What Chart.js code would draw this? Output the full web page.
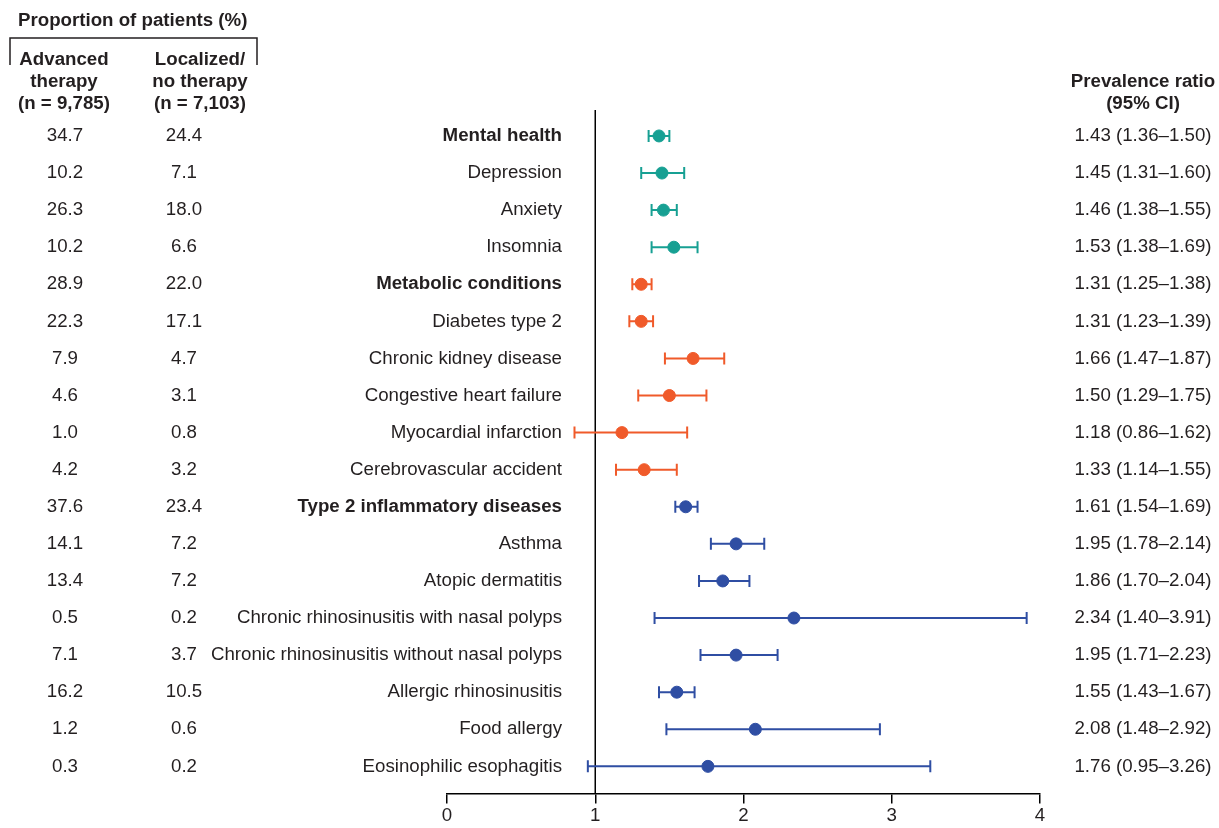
<!DOCTYPE html>
<html>
<head>
<meta charset="utf-8">
<script src="https://cdn.jsdelivr.net/npm/chart.js@4/dist/chart.umd.min.js"></script>
<style>
  body { margin: 0; background: #fff; }
  #wrap { width: 1219px; height: 828px; position: relative; }
</style>
</head>
<body>
<div id="wrap"><canvas id="forestChart"></canvas></div>
<script>
// rows, top to bottom
var conditions = ['Mental health', 'Depression', 'Anxiety', 'Insomnia',
  'Metabolic conditions', 'Diabetes type 2', 'Chronic kidney disease', 'Congestive heart failure',
  'Myocardial infarction', 'Cerebrovascular accident',
  'Type 2 inflammatory diseases', 'Asthma', 'Atopic dermatitis',
  'Chronic rhinosinusitis with nasal polyps', 'Chronic rhinosinusitis without nasal polyps',
  'Allergic rhinosinusitis', 'Food allergy', 'Eosinophilic esophagitis'];
var isGroup = [true, false, false, false, true, false, false, false, false, false,
  true, false, false, false, false, false, false, false];
var groupOf = [0, 0, 0, 0, 1, 1, 1, 1, 1, 1, 2, 2, 2, 2, 2, 2, 2, 2];

var advanced = ['34.7', '10.2', '26.3', '10.2', '28.9', '22.3', '7.9', '4.6', '1.0', '4.2',
  '37.6', '14.1', '13.4', '0.5', '7.1', '16.2', '1.2', '0.3'];
var localized = ['24.4', '7.1', '18.0', '6.6', '22.0', '17.1', '4.7', '3.1', '0.8', '3.2',
  '23.4', '7.2', '7.2', '0.2', '3.7', '10.5', '0.6', '0.2'];

var ratio = [1.43, 1.45, 1.46, 1.53, 1.31, 1.31, 1.66, 1.50, 1.18, 1.33,
  1.61, 1.95, 1.86, 2.34, 1.95, 1.55, 2.08, 1.76];
var ciLow = [1.36, 1.31, 1.38, 1.38, 1.25, 1.23, 1.47, 1.29, 0.86, 1.14,
  1.54, 1.78, 1.70, 1.40, 1.71, 1.43, 1.48, 0.95];
var ciHigh = [1.50, 1.60, 1.55, 1.69, 1.38, 1.39, 1.87, 1.75, 1.62, 1.55,
  1.69, 2.14, 2.04, 3.91, 2.23, 1.67, 2.92, 3.26];

var xTicks = [0, 1, 2, 3, 4];
var groupColors = ['#17a093', '#f05a2a', '#2f4ea3'];

var FONT = '"Liberation Sans", Arial, sans-serif';
var FS = 18.7;

function fmt(v) { return v.toFixed(2); }

// point data
var pts = [];
var ptColors = [];
for (var i = 0; i < conditions.length; i++) {
  pts.push({ x: ratio[i], y: i });
  ptColors.push(groupColors[groupOf[i]]);
}

// whiskers + text columns
var forestPlugin = {
  id: 'forest',
  beforeDatasetsDraw: function(chart) {
    var ctx = chart.ctx;
    var xs = chart.scales.x, ys = chart.scales.y;
    var area = chart.chartArea;
    ctx.save();
    // reference line at 1
    ctx.strokeStyle = '#000';
    ctx.lineWidth = 1.5;
    ctx.beginPath();
    ctx.moveTo(xs.getPixelForValue(1), area.top);
    ctx.lineTo(xs.getPixelForValue(1), area.bottom);
    ctx.stroke();
    // confidence intervals
    ctx.lineWidth = 2;
    for (var i = 0; i < conditions.length; i++) {
      var y = ys.getPixelForValue(i);
      var x1 = xs.getPixelForValue(ciLow[i]);
      var x2 = xs.getPixelForValue(ciHigh[i]);
      ctx.strokeStyle = groupColors[groupOf[i]];
      ctx.beginPath();
      ctx.moveTo(x1, y); ctx.lineTo(x2, y);
      ctx.moveTo(x1, y - 6); ctx.lineTo(x1, y + 6);
      ctx.moveTo(x2, y - 6); ctx.lineTo(x2, y + 6);
      ctx.stroke();
    }
    ctx.restore();
  },
  afterDraw: function(chart) {
    var ctx = chart.ctx;
    var ys = chart.scales.y;
    ctx.save();
    ctx.fillStyle = '#231f20';
    ctx.textBaseline = 'middle';

    // headers
    ctx.font = 'bold ' + FS + 'px ' + FONT;
    ctx.textAlign = 'left';
    ctx.fillText('Proportion of patients (%)', 18, 21);
    ctx.textAlign = 'center';
    var h1 = ['Advanced', 'therapy', '(n = 9,785)'];
    var h2 = ['Localized/', 'no therapy', '(n = 7,103)'];
    var hy = [60, 82, 104];
    for (var k = 0; k < 3; k++) {
      ctx.fillText(h1[k], 64, hy[k]);
      ctx.fillText(h2[k], 200, hy[k]);
    }
    ctx.fillText('Prevalence ratio', 1143, 82);
    ctx.fillText('(95% CI)', 1143, 104);

    // bracket
    ctx.strokeStyle = '#231f20';
    ctx.lineWidth = 1.5;
    ctx.beginPath();
    ctx.moveTo(10, 65); ctx.lineTo(10, 38); ctx.lineTo(257, 38); ctx.lineTo(257, 65);
    ctx.stroke();

    // rows
    for (var i = 0; i < conditions.length; i++) {
      var y = ys.getPixelForValue(i);
      ctx.font = FS + 'px ' + FONT;
      ctx.textAlign = 'center';
      ctx.fillText(advanced[i], 65, y);
      ctx.fillText(localized[i], 184, y);
      ctx.fillText(fmt(ratio[i]) + ' (' + fmt(ciLow[i]) + '\u2013' + fmt(ciHigh[i]) + ')', 1143, y);
      ctx.font = (isGroup[i] ? 'bold ' : '') + FS + 'px ' + FONT;
      ctx.textAlign = 'right';
      ctx.fillText(conditions[i], 562, y);
    }
    ctx.restore();
  }
};

var config = {
  type: 'scatter',
  data: {
    datasets: [{
      data: pts,
      backgroundColor: ptColors,
      borderColor: ptColors,
      pointRadius: 6,
      pointHoverRadius: 6
    }]
  },
  options: {
    responsive: true,
    maintainAspectRatio: false,
    animation: false,
    layout: { padding: { left: 447, right: 179, top: 110, bottom: 0 } },
    plugins: { legend: { display: false }, tooltip: { enabled: false } },
    scales: {
      x: {
        type: 'linear',
        min: 0,
        max: 4,
        afterBuildTicks: function(axis) {
          axis.ticks = xTicks.map(function(v) { return { value: v }; });
        },
        border: { display: true, color: '#000', width: 1.5 },
        grid: { drawOnChartArea: false, drawTicks: true, tickLength: 10, color: '#000', lineWidth: 1.5 },
        ticks: { color: '#231f20', font: { family: FONT, size: FS, lineHeight: 1.1 }, padding: 2 }
      },
      y: {
        type: 'linear',
        reverse: true,
        min: -0.7,
        max: 17.73,
        display: false
      }
    }
  },
  plugins: [forestPlugin]
};

new Chart(document.getElementById('forestChart').getContext('2d'), config);
</script>
</body>
</html>
